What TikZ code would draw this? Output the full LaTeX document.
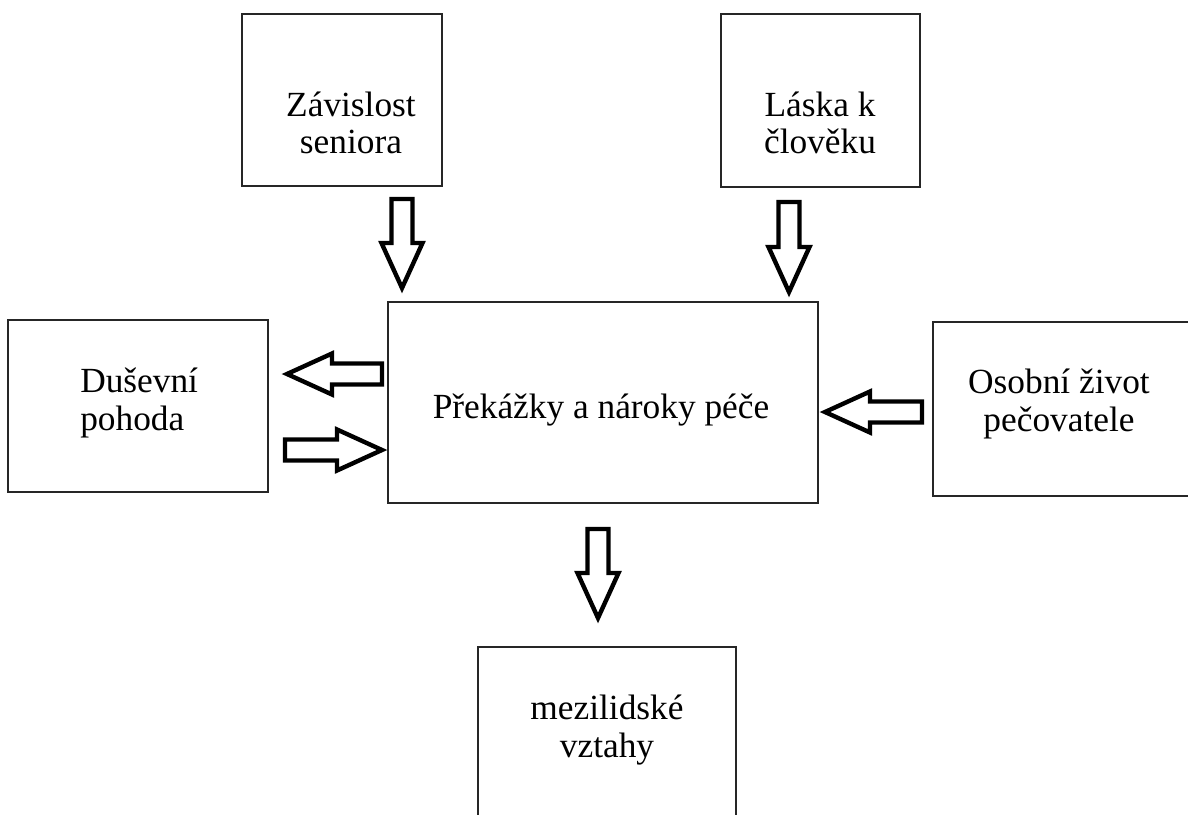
\documentclass[tikz,border=0pt]{standalone}
\usepackage{fontspec}
\setmainfont{Liberation Serif}
\begin{document}
\begin{tikzpicture}[x=0.75pt,y=-0.75pt,
  box/.style={draw=black!85,line width=1.4pt,fill=white,inner sep=0pt},
  lbl/.style={font=\fontsize{26.5}{28}\selectfont,align=center,inner sep=0pt},
  arrowline/.style={draw=black,line width=3.3pt,line join=miter,fill=white},
  pics/barrow/.style={code={
    \draw[arrowline] (0,0) -- (-45,-20.5) -- (-45,-10.5) -- (-#1,-10.5)
      -- (-#1,10.5) -- (-45,10.5) -- (-45,20.5) -- cycle;}}]
\clip (0,0) rectangle (1188,814);
\fill[white] (0,0) rectangle (1188,814);
% boxes
\node[box,minimum width=150pt,minimum height=129pt] (zav) at (342,100) {};
\node[box,minimum width=149.25pt,minimum height=129.75pt] (las) at (820.5,100.5) {};
\node[box,minimum width=195pt,minimum height=129pt] (dus) at (138,406) {};
\node[box,minimum width=322.5pt,minimum height=150.75pt] (pre) at (603,402.5) {};
\node[box,minimum width=196.5pt,minimum height=130.5pt] (oso) at (1064,409) {};
\node[box,minimum width=193.5pt,minimum height=136.5pt] (mez) at (607,738) {};
% texts
\node[lbl] (zavt) at (351,123) {Závislost\\seniora};
\node[lbl] (last) at (820,123) {Láska k\\člověku};
\node[lbl,align=left,anchor=west] (dust) at (80,403) {Duševní\\pohoda};
\node[lbl] (pret) at (601,410) {Překážky a nároky péče};
\node[lbl] (osot) at (1059,404) {Osobní život\\pečovatele};
\node[lbl] (mezt) at (607,730) {mezilidské\\vztahy};
% block arrows
\coordinate (t1) at (402,288);
\coordinate (t2) at (789,292);
\coordinate (t3) at (287,374);
\coordinate (t4) at (382,450);
\coordinate (t5) at (825,412);
\coordinate (t6) at (598,618);
\pic[rotate=-90] at (t1) {barrow=89};
\pic[rotate=-90] at (t2) {barrow=90};
\pic[rotate=180] at (t3) {barrow=95};
\pic at (t4) {barrow=97};
\pic[rotate=180] at (t5) {barrow=97};
\pic[rotate=-90] at (t6) {barrow=89};
\end{tikzpicture}
\end{document}
